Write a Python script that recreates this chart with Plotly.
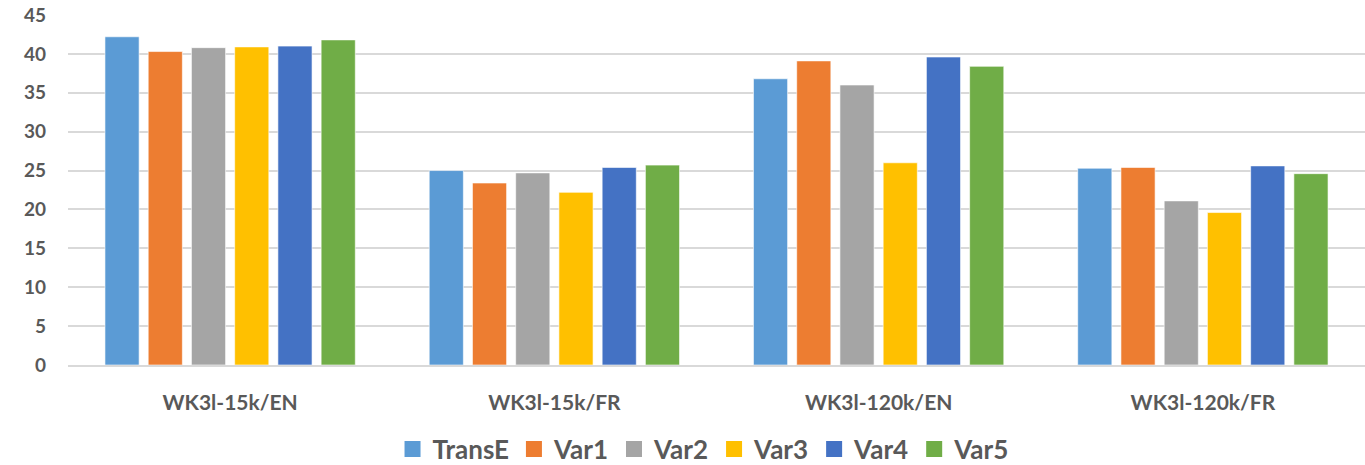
import plotly.graph_objects as go

categories = ["WK3l-15k/EN", "WK3l-15k/FR", "WK3l-120k/EN", "WK3l-120k/FR"]
series_names = ["TransE", "Var1", "Var2", "Var3", "Var4", "Var5"]
transe = [42.2, 25.0, 36.8, 25.3]
var1 = [40.3, 23.4, 39.1, 25.4]
var2 = [40.8, 24.7, 36.0, 21.1]
var3 = [40.9, 22.2, 26.0, 19.6]
var4 = [41.0, 25.4, 39.6, 25.6]
var5 = [41.8, 25.7, 38.4, 24.6]
series_values = [transe, var1, var2, var3, var4, var5]
colors = ["#5B9BD5", "#ED7D31", "#A5A5A5", "#FFC000", "#4472C4", "#70AD47"]
y_ticks = [0, 5, 10, 15, 20, 25, 30, 35, 40, 45]

FONT = "Lato"
GRAY = "#595959"
W, H = 1365, 465

fig = go.Figure()
for name, vals, col in zip(series_names, series_values, colors):
    fig.add_trace(go.Bar(
        x=categories, y=vals, name=name, showlegend=False,
        marker=dict(color=col, line=dict(color="rgba(255,255,255,0.6)", width=1)),
    ))
# legend entries with larger square swatches
for name, col in zip(series_names, colors):
    fig.add_trace(go.Scatter(
        x=[None], y=[None], mode="markers", name=name,
        marker=dict(symbol="square", size=16, color=col),
    ))

fig.update_layout(
    width=W, height=H,
    margin=dict(l=68, r=0, t=15, b=100, autoexpand=False),
    paper_bgcolor="white", plot_bgcolor="white",
    barmode="group", bargap=0.2, bargroupgap=0.21,
    font=dict(family=FONT, color=GRAY),
    legend=dict(
        orientation="h", x=0.49, xanchor="center",
        yref="container", y=(H - 449) / H, yanchor="middle",
        font=dict(family=FONT, size=26, color=GRAY, weight="bold"),
        itemwidth=30, traceorder="normal", itemsizing="trace",
    ),
    xaxis=dict(
        showgrid=False, showline=True, linecolor="#D9D9D9", linewidth=2,
        tickfont=dict(family=FONT, size=21, color=GRAY, weight="bold"),
        ticklabelstandoff=18, automargin=False,
    ),
    yaxis=dict(
        range=[0, 45], tickvals=y_ticks, showgrid=True, gridcolor="#D9D9D9", gridwidth=2,
        zeroline=False, showline=False,
        tickfont=dict(family=FONT, size=19, color=GRAY, weight="bold"),
        ticklabelstandoff=21, automargin=False, ticklabeloverflow="allow",
    ),
)

# remove the page's default 8px body margin so the figure fills the window exactly
fig.write_html(
    "out.html",
    config={"displayModeBar": False},
    post_script="document.body.style.margin='0px';",
)
